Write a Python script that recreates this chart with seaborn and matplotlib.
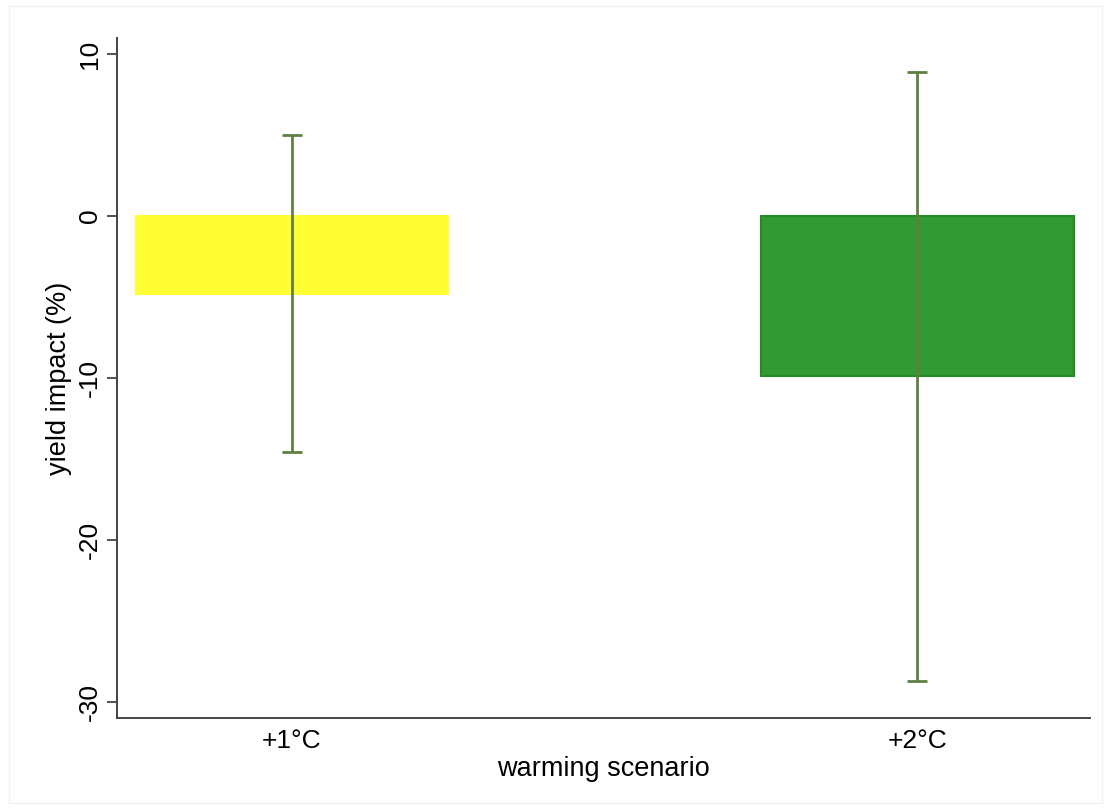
import seaborn as sns
import matplotlib.pyplot as plt
import pandas as pd
from matplotlib.patches import Rectangle

scenarios = ["+1°C", "+2°C"]
impact = [-4.8, -9.9]
ci_low = [-14.6, -28.7]
ci_high = [5.0, 8.9]
bar_colors = ["#ffff33", "#339933"]
edge_colors = ["#ffff33", "#228b22"]

sns.set_style("white")
plt.rcParams["font.family"] = ["Liberation Sans", "DejaVu Sans"]
plt.rcParams["axes.unicode_minus"] = False
plt.rcParams["text.color"] = "black"
plt.rcParams["axes.labelcolor"] = "black"
plt.rcParams["xtick.color"] = "black"
plt.rcParams["ytick.color"] = "black"

df = pd.DataFrame({"scenario": scenarios, "impact": impact})

fig = plt.figure(figsize=(11.11, 8.09), dpi=100)
ax = fig.add_axes([0.1053, 0.1125, 0.8757, 0.8405])

sns.barplot(data=df, x="scenario", y="impact", hue="scenario",
            palette=bar_colors, width=0.5, legend=False, ax=ax,
            saturation=1)
for patch, ec in zip(ax.patches, edge_colors):
    patch.set_edgecolor(ec)
    patch.set_linewidth(1.5)

# confidence intervals
lower = [v - lo for v, lo in zip(impact, ci_low)]
upper = [hi - v for v, hi in zip(impact, ci_high)]
ax.errorbar(range(len(scenarios)), impact, yerr=[lower, upper], fmt="none",
            ecolor="#5e8040", elinewidth=2, capsize=7, capthick=2, zorder=5)

ax.set_xlim(-0.28, 1.276)
ax.set_ylim(-31, 11)
ax.set_yticks([10, 0, -10, -20, -30])
ax.tick_params(axis="y", labelsize=19, length=7, width=1.3, color="#444444",
               labelcolor="black", left=True, rotation=90, pad=4)
ax.tick_params(axis="x", labelsize=19, length=0, pad=8, labelcolor="black")
for lab in ax.get_yticklabels():
    lab.set_va("center")
sns.despine(ax=ax)
for side in ["left", "bottom"]:
    ax.spines[side].set_color("#444444")
    ax.spines[side].set_linewidth(1.4)

ax.set_ylabel("yield impact (%)", fontsize=19.5, labelpad=4)
ax.set_xlabel("warming scenario", fontsize=19.5, labelpad=2)

fig.patches.append(Rectangle((0.008, 0.008), 0.984, 0.984, transform=fig.transFigure,
                             fill=False, edgecolor="#f0f0f0", linewidth=1))

fig.savefig("out.png", dpi=100)
